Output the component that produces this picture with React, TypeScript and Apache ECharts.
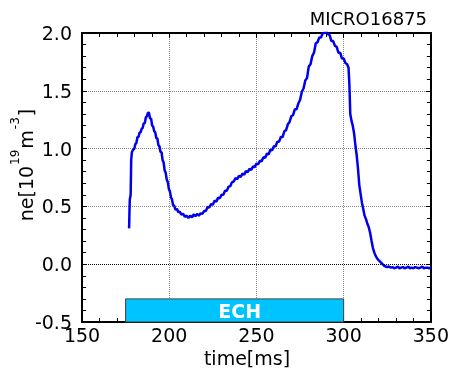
import React, { useEffect, useRef } from "react";
import * as echarts from "echarts";

const titleText = "MICRO16875";
const xName = "time[ms]";
const xMin = 150, xMax = 350, xInterval = 50;
const yMin = -0.5, yMax = 2.0, yInterval = 0.5;

const times = [
  177.0, 177.2, 177.4, 177.9, 178.2, 178.6, 179.3, 180.0, 180.6, 181.2, 181.8, 182.4, 183.0, 183.6, 184.2, 184.8,
  185.4, 186.0, 186.6, 187.2, 187.8, 188.4, 189.0, 189.6, 190.2, 190.8, 191.4, 192.0, 192.6, 193.2, 193.8, 194.4,
  195.0, 195.6, 196.2, 196.8, 197.4, 198.0, 198.6, 199.2, 199.8, 200.4, 201.0, 201.6, 202.2, 202.8, 203.6, 204.4,
  205.2, 206.0, 207.0, 208.0, 209.0, 210.0, 211.0, 212.0, 213.0, 214.0, 215.0, 216.0, 217.0, 218.0, 219.0, 220.0,
  221.0, 222.0, 223.0, 224.0, 225.0, 226.0, 227.0, 228.0, 229.0, 230.0, 231.0, 232.0, 233.0, 234.0, 235.0, 236.0,
  237.0, 238.0, 239.0, 240.0, 241.0, 242.0, 243.0, 244.0, 245.0, 246.0, 247.0, 248.0, 249.0, 250.0, 251.0, 252.0,
  253.0, 254.0, 255.0, 256.0, 257.0, 258.0, 259.0, 260.0, 261.0, 262.0, 263.0, 264.0, 265.0, 266.0, 267.0, 268.0,
  269.0, 270.0, 271.0, 272.0, 273.0, 274.0, 275.0, 276.0, 277.0, 278.0, 279.0, 280.0, 281.0, 282.0, 283.0, 284.0,
  285.0, 286.0, 287.0, 288.0, 289.0, 290.0, 291.0, 292.0, 293.0, 294.0, 295.0, 296.0, 297.0, 298.0, 299.0, 300.0,
  301.0, 302.0, 302.8, 303.3, 303.8, 304.5, 305.2, 306.0, 306.8, 307.5, 308.2, 309.0, 309.8, 310.5, 311.2, 312.0,
  312.8, 313.6, 314.4, 315.2, 316.0, 316.8, 317.6, 318.4, 319.2, 320.0, 321.0, 322.0, 323.0, 324.0, 325.0, 326.0,
  327.0, 328.0, 329.0, 330.0, 331.0, 332.0, 333.0, 334.0, 335.0, 336.0, 337.0, 338.0, 339.0, 340.0, 341.0, 342.0,
  343.0, 344.0, 345.0, 346.0, 347.0, 348.0, 349.0, 350.0,
];

const density = [
  0.31, 0.45, 0.56, 0.60, 0.90, 0.97, 0.99, 1.00, 1.04, 1.05, 1.10, 1.10, 1.14, 1.14, 1.17, 1.18,
  1.22, 1.22, 1.27, 1.28, 1.31, 1.31, 1.26, 1.26, 1.20, 1.19, 1.15, 1.14, 1.09, 1.09, 1.03, 1.02,
  0.97, 0.97, 0.90, 0.88, 0.81, 0.79, 0.73, 0.71, 0.65, 0.63, 0.58, 0.56, 0.51, 0.51, 0.47, 0.48,
  0.45, 0.455, 0.43, 0.435, 0.41, 0.42, 0.40, 0.42, 0.405, 0.43, 0.415, 0.435, 0.42, 0.44, 0.435, 0.46,
  0.46, 0.495, 0.49, 0.52, 0.515, 0.55, 0.54, 0.575, 0.57, 0.60, 0.60, 0.635, 0.635, 0.67, 0.675, 0.71,
  0.715, 0.745, 0.735, 0.765, 0.755, 0.785, 0.775, 0.805, 0.795, 0.825, 0.815, 0.845, 0.84, 0.87, 0.865, 0.895,
  0.89, 0.925, 0.92, 0.955, 0.95, 0.99, 0.985, 1.02, 1.02, 1.06, 1.06, 1.10, 1.10, 1.15, 1.16, 1.21,
  1.23, 1.28, 1.29, 1.34, 1.34, 1.39, 1.42, 1.49, 1.52, 1.59, 1.61, 1.71, 1.73, 1.80, 1.83, 1.91,
  1.92, 1.96, 1.96, 2.00, 2.00, 2.02, 1.99, 1.98, 1.93, 1.93, 1.89, 1.88, 1.83, 1.83, 1.78, 1.78,
  1.74, 1.73, 1.70, 1.55, 1.30, 1.24, 1.20, 1.13, 1.02, 0.94, 0.83, 0.68, 0.60, 0.53, 0.48, 0.42,
  0.39, 0.35, 0.32, 0.27, 0.20, 0.14, 0.10, 0.07, 0.05, 0.035, 0.02, 0.005, -0.01, -0.02, -0.025, -0.02,
  -0.03, -0.025, -0.035, -0.03, -0.02, -0.035, -0.03, -0.025, -0.035, -0.03, -0.02, -0.035, -0.03, -0.035, -0.025, -0.03,
  -0.035, -0.03, -0.02, -0.035, -0.03, -0.03, -0.035, -0.03,
];

const echLabel = "ECH";
const echStart = 175;
const echEnd = 300;
const echTop = -0.3;

const FONT = "DejaVu Sans";

export default function App() {
  const ref = useRef<HTMLDivElement>(null);
  useEffect(() => {
    if (!ref.current) return;
    const chart = echarts.init(ref.current, null, { renderer: "svg" });
    const data = times.map((t, i) => [t, density[i]]);
    const common = {
      type: "value",
      splitNumber: 4,
      axisLine: { show: true, onZero: false, lineStyle: { color: "#000", width: 2 } },
      axisTick: { show: true, inside: true, length: 5, lineStyle: { color: "#000", width: 1 } },
      minorTick: { show: true, splitNumber: 5, length: 4, lineStyle: { color: "#000", width: 1 } },
    };
    chart.setOption({
      animation: false,
      textStyle: { fontFamily: FONT },
      grid: { left: 82, right: 20, top: 33, bottom: 49, containLabel: false },
      xAxis: [
        {
          ...common,
          position: "bottom",
          min: xMin,
          max: xMax,
          interval: xInterval,
          axisLabel: { show: true, color: "#000", fontSize: 19, fontFamily: FONT, margin: 3 },
          splitLine: { show: true, lineStyle: { color: "#8a8a8a", type: "dotted", width: 1 } },
        },
        {
          ...common,
          position: "top",
          min: xMin,
          max: xMax,
          interval: xInterval,
          axisLabel: { show: false },
          splitLine: { show: false },
        },
      ],
      yAxis: [
        {
          ...common,
          position: "left",
          min: yMin,
          max: yMax,
          interval: yInterval,
          axisLabel: {
            show: true,
            color: "#000",
            fontSize: 19,
            fontFamily: FONT,
            margin: 10,
            padding: [0, 0, 6, 0],
            formatter: (v: number) => v.toFixed(1),
          },
          splitLine: { show: true, lineStyle: { color: "#8a8a8a", type: "dotted", width: 1 } },
        },
        {
          ...common,
          position: "right",
          min: yMin,
          max: yMax,
          interval: yInterval,
          axisLabel: { show: false },
          splitLine: { show: false },
        },
      ],
      series: [
        {
          type: "line",
          data,
          symbol: "none",
          clip: true,
          lineStyle: { color: "#0000EE", width: 2.5 },
          markLine: {
            silent: true,
            symbol: "none",
            label: { show: false },
            lineStyle: { color: "#000", type: "dotted", width: 1 },
            data: [{ yAxis: 0 }],
          },
          markArea: {
            silent: true,
            itemStyle: { color: "#00C4FF", borderColor: "#404040", borderWidth: 1 },
            label: {
              show: true,
              position: "inside",
              color: "#fff",
              fontWeight: "bold",
              fontSize: 19,
              fontFamily: FONT,
              offset: [5, 1],
            },
            data: [[{ name: echLabel, xAxis: echStart, yAxis: yMin }, { xAxis: echEnd, yAxis: echTop }]],
          },
        },
      ],
      graphic: [
        {
          type: "text",
          x: 427,
          y: 18,
          style: { text: titleText, fontSize: 18, fontFamily: FONT, fill: "#000", align: "right", verticalAlign: "middle" },
        },
        {
          type: "text",
          x: 247,
          y: 358,
          style: { text: xName, fontSize: 19, fontFamily: FONT, fill: "#000", align: "center", verticalAlign: "middle" },
        },
        {
          type: "text",
          x: 22,
          y: 165,
          rotation: Math.PI / 2,
          style: {
            text: "{a|ne[10}{s|19}{a|m}{s|-3}{a|]}",
            align: "center",
            verticalAlign: "middle",
            fill: "#000",
            rich: {
              a: { fontSize: 19, fontFamily: FONT, fill: "#000", lineHeight: 26, verticalAlign: "bottom" },
              s: { fontSize: 12, fontFamily: FONT, fill: "#000", lineHeight: 26, verticalAlign: "top", padding: [0, 1, 0, 1] },
            },
          },
        },
      ],
    });
    return () => chart.dispose();
  }, []);
  return <div ref={ref} style={{ position: "fixed", left: 0, top: 0, width: 452, height: 371 }} />;
}
